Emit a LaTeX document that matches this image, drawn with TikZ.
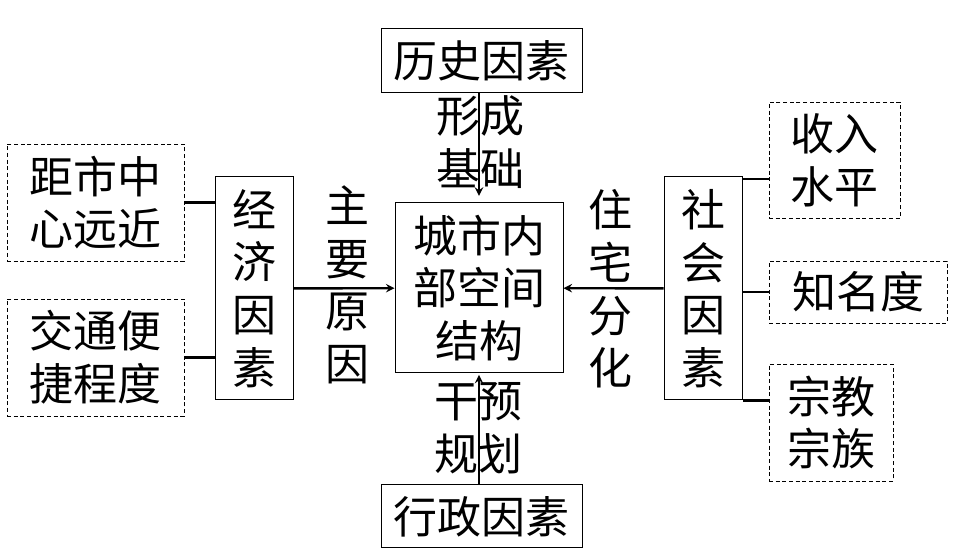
\documentclass[tikz,border=0pt]{standalone}
\usepackage{fontspec}
\newfontfamily\cjk{Noto Sans CJK SC}

\begin{document}
\begin{tikzpicture}[x=0.75pt,y=-0.75pt,line width=0.75pt,
  font=\cjk\fontsize{33}{39.5}\selectfont,
  solidbox/.style={draw,inner sep=0pt,align=center},
  dashbox/.style={draw,densely dashed,line width=0.6pt,inner sep=0pt,align=center},
  link/.style={line width=2pt},
  flow/.style={line width=1.8pt,->,>=stealth},
  lbl/.style={inner sep=0pt,align=center}]
  \useasboundingbox (0,0) rectangle (954,559);

  \node[solidbox,minimum width=126pt,minimum height=127.5pt] (city) at (479,288)
    {城市内\\部空间\\结构};
  \node[solidbox,minimum width=150.75pt,minimum height=48pt] (hist) at (481.5,61) {历史因素};
  \node[solidbox,minimum width=150.75pt,minimum height=47.25pt] (admin) at (481.5,516.5) {行政因素};
  \node[solidbox,minimum width=58.5pt,minimum height=167.25pt] (econ) at (254,288.5)
    {经\\济\\因\\素};
  \node[solidbox,minimum width=58.5pt,minimum height=167.25pt] (social) at (703,288.5)
    {社\\会\\因\\素};

  \node[dashbox,minimum width=132.75pt,minimum height=87.75pt] (dist) at (95.5,202.5)
    {距市中\\心远近};
  \node[dashbox,minimum width=132.75pt,minimum height=87.75pt] (traf) at (95.5,357.5)
    {交通便\\捷程度};
  \node[dashbox,minimum width=98.25pt,minimum height=87pt] (income) at (834.5,160)
    {收入\\水平};
  \node[dashbox,minimum width=133.5pt,minimum height=46.5pt] (fame) at (858,292) {知名度};
  \node[dashbox,minimum width=93pt,minimum height=87.75pt] (relig) at (831,422.5)
    {宗教\\宗族};

  \node[lbl] (base) at (480,142) {形成\\基础};
  \node[lbl] (plan) at (478,428) {干预\\规划};
  \node[lbl] (main) at (347,285) {主\\要\\原\\因};
  \node[lbl] (split) at (610,289) {住\\宅\\分\\化};

  \draw[flow,shorten >=5pt] (hist.south -| city.north) -- (city.north);
  \draw[flow,shorten >=1pt] (admin.north -| city.south) -- (city.south);
  \draw[flow] (econ) -- (city);
  \draw[flow] (social) -- (city);

  \draw[link] (dist.east) -- (dist.east -| econ.west);
  \draw[link] (traf.east) -- (traf.east -| econ.west);
  \draw[link] ([yshift=-2pt]social.north east) -- ([yshift=-2pt]social.north east -| income.west);
  \draw[link] (fame.west -| social.east) -- (fame.west);
  \draw[link] (social.south east) -- (social.south east -| relig.west);
\end{tikzpicture}
\end{document}
